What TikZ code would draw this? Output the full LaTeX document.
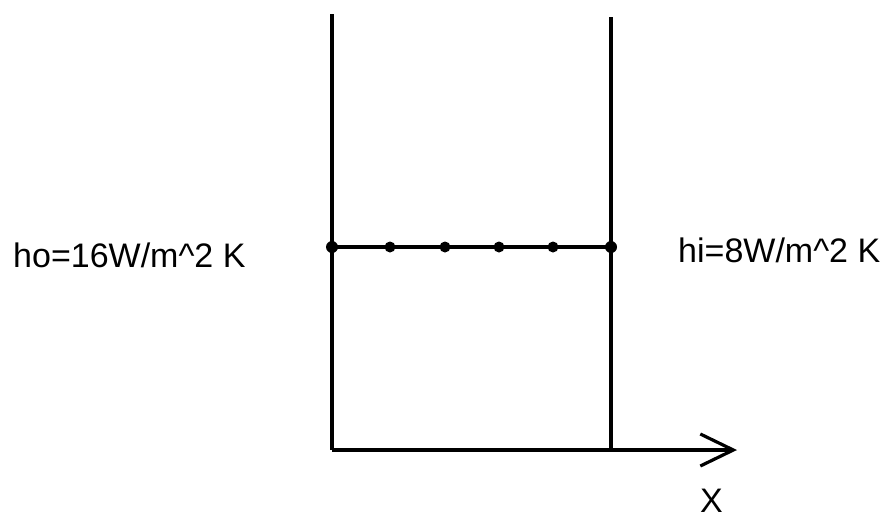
\documentclass[tikz,border=0pt]{standalone}
\usepackage{fontspec}
\setmainfont{Liberation Sans}
\usepackage{tikz}
\usetikzlibrary{arrows.meta, positioning}

\tikzset{
    wall/.style={line width=3.2pt},
    knot/.style={circle, fill=black, inner sep=0pt, minimum size=11pt},
    coef/.style={inner sep=0pt, font=\fontsize{34}{40}\selectfont}
}

\begin{document}
\begin{tikzpicture}[x=1pt, y=-1pt, >={Straight Barb[length=33pt, width=32pt]}]
    \useasboundingbox (0,0) rectangle (885,520);

    % Các điểm chính
    \coordinate (LT) at (332,14);
    \coordinate (RT) at (611,17);
    \coordinate (O) at (332,450);
    \coordinate (RB) at (611,450);
    \coordinate (Xend) at (737,450);

    % Hai mặt tường
    \draw[wall] (LT) -- (O);
    \draw[wall] (RT) -- (RB);

    % Trục x
    \draw[wall, ->] (O) -- (Xend);
    \node[coef, anchor=base west] (xlab) at (700,512) {X};

    % Các nút chia lưới
    \node[knot, minimum size=12pt] (n0) at (332,247) {};
    \node[knot] (n1) at (390,247) {};
    \node[knot] (n2) at (445,247) {};
    \node[knot] (n3) at (499,247) {};
    \node[knot] (n4) at (553,247) {};
    \node[knot, minimum size=12pt] (n5) at (611,247) {};
    \draw[wall] (n0.center) -- (n5.center);

    % Hệ số trao đổi nhiệt
    \node[coef, anchor=base west] (ho) at (13,267) {ho=16W/m\^{}2 K};
    \node[coef, anchor=base west] (hi) at (678,262) {hi=8W/m\^{}2 K};

\end{tikzpicture}
\end{document}
